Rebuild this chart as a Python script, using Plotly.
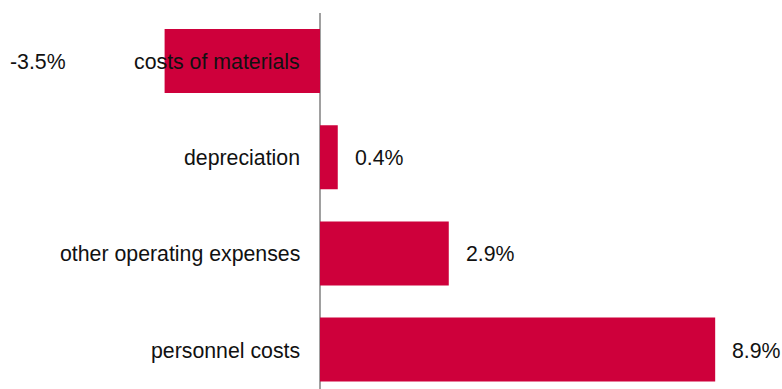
import plotly.graph_objects as go

categories = ["costs of materials", "depreciation", "other operating expenses", "personnel costs"]
values = [-3.5, 0.4, 2.9, 8.9]
value_labels = ["-3.5%", "0.4%", "2.9%", "8.9%"]

BAR_COLOR = "#CE003B"
FONT = dict(family="Liberation Sans, Arial, sans-serif", size=21.3, color="#111111")

fig = go.Figure()
fig.add_trace(go.Bar(
    x=values, y=categories, orientation="h",
    marker=dict(color=BAR_COLOR, line=dict(width=0)),
    width=0.665, hoverinfo="skip",
))

annotations = []
for cat, val, lab in zip(categories, values, value_labels):
    annotations.append(dict(x=0, y=cat, xref="x", yref="y", text=cat, showarrow=False,
                            xanchor="right", yanchor="middle", xshift=-18, yshift=-1, font=FONT))
    if val >= 0:
        annotations.append(dict(x=val, y=cat, xref="x", yref="y", text=lab, showarrow=False,
                                xanchor="left", yanchor="middle", xshift=15, yshift=-1, font=FONT))
    else:
        annotations.append(dict(x=0, y=cat, xref="paper", yref="y", text=lab, showarrow=False,
                                xanchor="left", yanchor="middle", xshift=8, yshift=-1, font=FONT))

fig.update_layout(
    width=782, height=389,
    margin=dict(l=0, r=0, t=13, b=0),
    paper_bgcolor="white", plot_bgcolor="white",
    showlegend=False,
    annotations=annotations,
    xaxis=dict(range=[-7.207, 10.405], showgrid=False, showticklabels=False,
               zeroline=True, zerolinecolor="#A0A0A0", zerolinewidth=1.5, fixedrange=True),
    yaxis=dict(type="category", categoryorder="array", categoryarray=categories,
               range=[3.41, -0.5], showgrid=False, showticklabels=False, zeroline=False,
               fixedrange=True),
)

fig.write_html("out.html", config={"displayModeBar": False})
